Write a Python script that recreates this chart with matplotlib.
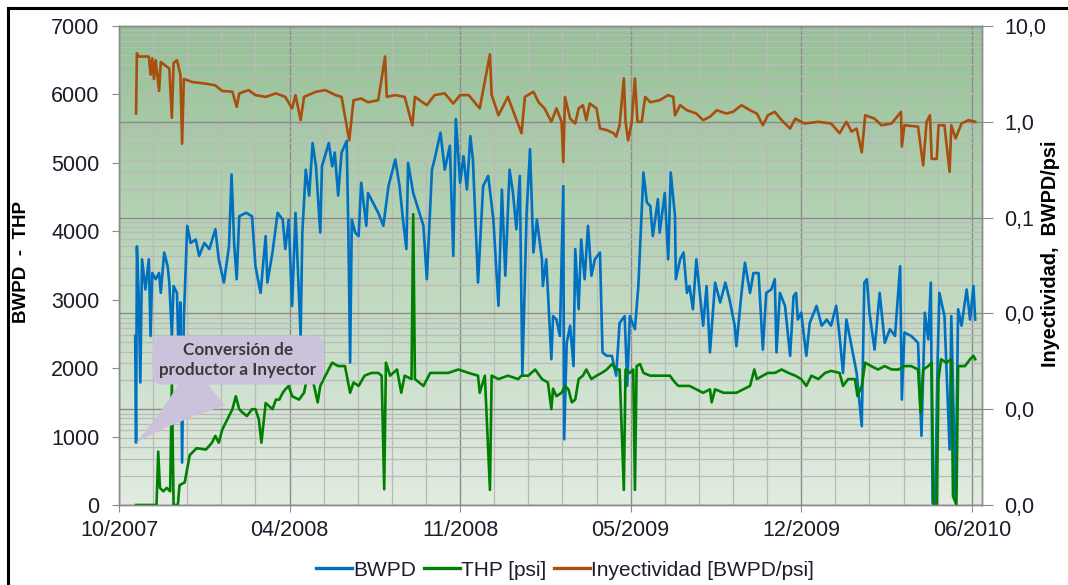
import numpy as np
import pandas as pd
import matplotlib
matplotlib.use("Agg")
import matplotlib.pyplot as plt
import matplotlib.dates as mdates
from matplotlib.ticker import FixedLocator, FuncFormatter, LogLocator, NullFormatter
from matplotlib.lines import Line2D

plt.rcParams['font.family'] = ['Liberation Sans', 'DejaVu Sans']

# ---------------- data (day offsets from start date) ----------------
start_date = "2007-10-01"

bwpd_day = [19,20,21,23,25,27,31,35,37,39,43,47,49,53,57,59,62,64,68,70,72,74,76,80,84,90,94,100,106,113,117,123,129,132,135,138,141,149,156,160,166,172,174,180,186,192,195,199,203,207,213,215,219,223,227,231,236,238,246,250,253,257,261,267,269,271,273,277,281,284,290,292,304,310,316,324,329,333,337,339,345,351,357,361,367,370,377,382,388,392,395,400,404,408,412,415,421,427,433,439,445,449,453,458,462,466,470,473,478,482,486,490,496,497,501,507,509,513,517,521,522,525,529,533,535,539,542,546,550,554,558,564,567,572,578,583,587,593,596,599,605,609,615,619,623,626,632,634,640,644,647,652,653,658,662,666,669,673,677,685,689,693,699,705,711,716,722,724,730,734,740,744,750,755,759,765,769,771,775,781,787,791,794,796,800,806,810,818,824,830,835,841,845,849,853,859,865,871,874,877,880,886,892,898,904,910,916,918,921,929,937,941,945,949,952,954,957,960,962,968,974,976,981,984,988,994,998,1002,1004]
bwpd = [2470,910,3780,3100,1790,3590,3150,3590,2470,3390,3300,3390,3100,3690,3490,3250,2470,3200,3100,2130,2960,620,2710,4080,3830,3880,3640,3830,3740,4030,3590,3250,3780,4830,3830,3300,4220,4270,4220,3490,3100,3930,3250,3690,4270,4170,3740,4170,2910,4270,2470,3980,4900,4520,5290,4950,3980,4950,5290,4950,5150,4520,5150,5320,3980,2080,4170,3980,3930,4710,4080,4560,4270,4080,4660,5050,4660,4170,3740,5000,4560,4320,4080,3300,4900,5050,5440,4900,5250,3640,5640,4710,5100,4610,5390,5050,3250,4660,4810,4170,2910,4610,3350,4900,4560,4030,4810,1890,4270,5200,3690,4170,3590,3200,3590,2130,2760,2710,2470,4660,960,2370,2620,2030,3740,2860,3880,3300,4080,3350,3590,3690,2230,2180,2180,1890,2660,2760,1740,2760,2570,3200,4860,4420,4370,3930,4470,3980,4560,3590,4860,4220,3300,3590,3690,3100,3200,2860,3590,2620,3200,2230,3250,2960,3250,3000,2620,2320,3100,3540,3100,3390,3390,2270,3100,3150,3300,2230,3100,2910,2180,3050,3100,2710,2810,2180,2660,2910,2620,2710,2620,2910,2470,1930,2710,2320,1930,1150,3250,3300,2810,2270,3100,2370,2570,2470,3490,1540,2520,2470,2370,1010,2810,2420,3250,30,30,2130,3100,2760,810,2760,90,2860,2620,3150,2710,3200,2710]

thp_day = [20,44,46,48,52,56,60,62,64,69,71,77,83,91,102,109,113,117,121,125,129,133,137,141,145,150,156,160,164,167,170,172,180,184,188,192,195,199,203,211,217,221,227,233,236,242,250,257,265,271,275,281,288,296,304,308,311,313,318,326,331,335,343,345,347,357,365,374,386,398,410,421,423,429,435,437,445,456,468,472,480,488,496,503,507,509,513,519,523,527,531,535,539,544,548,554,560,566,572,578,583,587,592,594,599,603,605,607,611,615,623,634,646,652,656,662,669,677,685,693,695,699,709,716,724,732,740,745,748,755,761,765,769,777,785,793,800,806,812,820,828,835,845,849,855,863,866,871,875,882,890,898,906,914,921,929,937,940,943,949,953,955,959,961,964,970,976,978,982,984,992,998,1002,1004]
thp = [0,0,780,250,200,250,200,1800,0,0,290,330,730,830,810,910,1010,910,1100,1200,1300,1400,1590,1400,1350,1300,1400,1400,1250,910,1250,1490,1400,1540,1540,1640,1690,1740,1590,1540,1640,1890,1840,1500,1740,1890,2080,2030,2030,1640,1790,1740,1890,1930,1930,1890,230,2080,1890,1980,1640,1890,1840,4250,1840,1740,1930,1930,1930,1980,1930,1890,1640,1890,220,1890,1840,1890,1840,1890,1890,1980,1840,1790,1400,1700,1590,1640,1740,1690,1500,1540,1840,1890,1980,1840,1890,1930,1980,2060,1980,1980,220,1980,1930,1980,220,2030,2060,1930,1890,1890,1890,1790,1740,1740,1740,1690,1640,1690,1500,1690,1640,1640,1640,1690,1740,1980,1840,1890,1930,1930,1930,1980,1930,1890,1840,1740,1890,1840,1930,1960,1930,1740,1840,1840,1590,1740,2080,2030,1980,2030,1980,1980,2030,2030,1980,1350,1980,2030,2080,0,0,1840,2130,2080,2130,130,0,2030,2030,2130,2180,2130]

iny_day = [20,21,23,35,37,39,41,43,47,49,59,62,64,68,72,74,76,86,102,113,121,133,138,141,152,160,172,184,195,203,207,213,217,231,242,254,261,270,275,284,292,304,312,314,324,335,344,347,361,370,382,392,400,410,423,435,437,445,456,472,476,486,492,499,507,513,519,521,523,529,535,539,544,548,552,560,564,572,580,583,587,592,594,597,601,605,608,613,617,623,634,644,650,652,658,666,677,685,693,701,712,720,730,740,748,755,761,769,777,787,793,804,820,835,845,853,859,865,871,875,886,894,906,917,918,921,937,943,947,951,953,959,961,968,974,976,981,988,996,1004]
iny = [1.22,5.2,4.8,4.8,3.1,4.6,2.8,4.4,2.1,4.2,3.6,1.1,4.1,4.4,3.1,0.59,2.8,2.6,2.5,2.4,2.1,2.06,1.43,1.98,2.14,1.9,1.82,1.98,1.82,1.38,1.9,1.04,1.82,2.06,2.14,1.9,1.82,0.64,1.68,1.75,1.6,1.68,4.8,1.82,1.9,1.82,0.92,1.82,1.49,1.9,1.98,1.55,1.9,1.9,1.38,5.06,1.9,1.17,1.82,0.76,1.82,2.06,1.6,1.38,1.0,1.38,1.0,0.38,1.82,1.08,0.96,1.38,1.49,1.04,1.55,1.38,0.85,0.82,0.76,0.7,0.92,2.84,1.0,0.64,0.96,2.84,1.0,1.0,1.82,1.6,1.68,1.9,1.82,1.17,1.49,1.32,1.22,1.04,1.13,1.32,1.22,1.27,1.49,1.32,1.22,0.92,1.17,1.27,1.04,0.85,1.08,0.96,1.0,0.96,0.76,1.0,0.79,0.85,0.48,1.17,1.08,0.92,0.96,1.27,0.55,0.92,0.89,0.35,1.0,1.17,0.41,0.41,0.92,0.92,0.3,0.92,0.67,0.96,1.04,1.0]

series_labels = ["BWPD", "THP [psi]", "Inyectividad [BWPD/psi]"]
callout_text = "Conversión de\nproductor a Inyector"
callout_day, callout_value = 20, 910

# ---------------- figure ----------------
W, H = 1068, 585
fig = plt.figure(figsize=(W / 100, H / 100), dpi=100)
rect = [119 / W, 1 - 505 / H, (982 - 119) / W, (505 - 26) / H]

t0 = pd.Timestamp(start_date)
def to_dates(days):
    return t0 + pd.to_timedelta(np.asarray(days), unit="D")

# gradient background
bg = fig.add_axes(rect, zorder=0)
grad = np.linspace(0, 1, 256).reshape(-1, 1)
top_c = np.array([150, 193, 150]) / 255
bot_c = np.array([226, 236, 226]) / 255
img = top_c[None, None, :] * (1 - grad[:, :, None]) + bot_c[None, None, :] * grad[:, :, None]
bg.imshow(img, aspect="auto", extent=[0, 1, 0, 1])
bg.set_axis_off()

# log axis (right) carries the grid
axR = fig.add_axes(rect, zorder=1)
axR.patch.set_alpha(0)
axL = axR.twinx()
axL.set_zorder(2)
axL.patch.set_alpha(0)

axR.yaxis.tick_right()
axL.yaxis.tick_left()

xmin = t0
xmax = t0 + pd.Timedelta(days=1012)

line_w = 1.9
c_bwpd = "#0070C0"
c_thp = "#008000"
c_iny = "#A84E0E"

l3, = axR.plot(to_dates(iny_day), iny, color=c_iny, lw=line_w)
l1, = axL.plot(to_dates(bwpd_day), bwpd, color=c_bwpd, lw=line_w)
l2, = axL.plot(to_dates(thp_day), thp, color=c_thp, lw=line_w)

axR.set_yscale("log")
axR.set_ylim(1e-4, 10)
axL.set_ylim(0, 7000)
for a in (axR, axL):
    a.set_xlim(xmin, xmax)

# x ticks every 200 days, minor every 40 days
major_x = [mdates.date2num(t0 + pd.Timedelta(days=200 * k)) for k in range(6)]
minor_x = [mdates.date2num(t0 + pd.Timedelta(days=40 * k)) for k in range(26)]
axR.xaxis.set_major_locator(FixedLocator(major_x))
axR.xaxis.set_minor_locator(FixedLocator(minor_x))
axR.xaxis.set_major_formatter(mdates.DateFormatter("%m/%Y"))
axR.grid(True, which="major", axis="both", color="#8c8c8c", lw=1.0)
axR.grid(True, which="minor", axis="both", color="#b9b9b9", lw=0.9)
axR.yaxis.set_major_locator(LogLocator(base=10, numticks=10))
axR.yaxis.set_minor_locator(LogLocator(base=10, subs=np.arange(2, 10), numticks=20))
axR.yaxis.set_minor_formatter(NullFormatter())
axR.yaxis.set_major_formatter(FuncFormatter(lambda v, p: f"{v:.1f}".replace(".", ",")))
axR.set_axisbelow(True)

tick_col = "#1c1c2a"
tick_fs = 15.5
axR.tick_params(axis="x", which="major", length=5, color="#8c8c8c", labelsize=tick_fs,
                labelcolor=tick_col, pad=6)
axR.tick_params(axis="x", which="minor", length=0)
axR.tick_params(axis="y", which="major", length=8, color="#8c8c8c", labelsize=tick_fs,
                labelcolor=tick_col, pad=8)
axR.tick_params(axis="y", which="minor", length=0)

axL.set_yticks(np.arange(0, 7001, 1000))
axL.tick_params(axis="y", length=5, color="#8c8c8c", labelsize=tick_fs, labelcolor=tick_col, pad=9)
axL.tick_params(axis="x", length=0, labelbottom=False)

for a in (axR, axL):
    for s in a.spines.values():
        s.set_color("#8c8c8c")
        s.set_linewidth(1.0)

# axis titles
fig.text(22 / W, 1 - 262 / H, "BWPD  -  THP", rotation=90, ha="center", va="center",
         fontsize=13.5, fontweight="bold", color="black")
fig.text(1050 / W, 1 - 254 / H, "Inyectividad,  BWPD/psi", rotation=90, ha="center",
         va="center", fontsize=14.3, fontweight="bold", color="black")

# callout
box_day = 139.5
box_val = 2118
axL.annotate(callout_text, xy=(to_dates([callout_day])[0], callout_value),
             xytext=(to_dates([box_day])[0], box_val), ha="center", va="center",
             fontsize=12.3, fontweight="bold", color="#3a3a3a", family=["Lato", "DejaVu Sans"],
             linespacing=1.25,
             bbox=dict(boxstyle="round,pad=0.4,rounding_size=0.6", fc="#CCC2DB", ec="none"),
             arrowprops=dict(arrowstyle="wedge,tail_width=3.2,shrink_factor=0.4",
                             fc="#CCC2DB", ec="none", shrinkA=0, shrinkB=0),
             zorder=5)

# legend
leg = fig.legend([l1, l2, l3], series_labels, loc="center", bbox_to_anchor=(565 / W, 1 - 570 / H),
                 ncol=3, frameon=False, fontsize=15, handlelength=1.7, handletextpad=0.05,
                 columnspacing=0.4)
for t in leg.get_texts():
    t.set_color("#1c1c2a")
for h in leg.legend_handles:
    h.set_linewidth(2.4)

# partial outer frame (top and left edges)
fig.add_artist(Line2D([8 / W, 1.0], [1 - 8 / H, 1 - 8 / H], color="black", lw=2.2,
                      transform=fig.transFigure))
fig.add_artist(Line2D([8 / W, 8 / W], [0, 1 - 8 / H], color="black", lw=2.2,
                      transform=fig.transFigure))

fig.savefig("out.png", dpi=100, facecolor="white")
